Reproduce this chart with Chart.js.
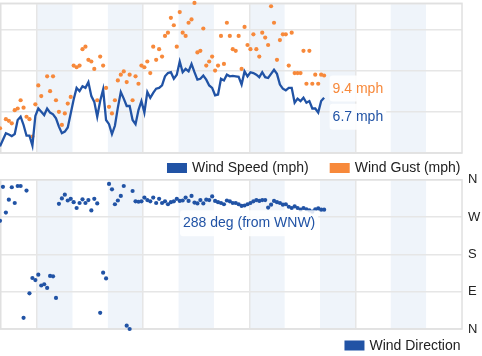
<!DOCTYPE html>
<html><head><meta charset="utf-8">
<script src="https://cdn.jsdelivr.net/npm/chart.js@4.4.0/dist/chart.umd.min.js"></script>
<style>
html,body{margin:0;padding:0;background:#fff;}
#wrap{position:relative;width:482px;height:356px;overflow:hidden;background:#fff;}
canvas{position:absolute;left:0;display:block;}
#c1{top:0;}
#c2{top:166px;}
</style></head><body>
<div id="wrap">
<canvas id="c1" width="482" height="175"></canvas>
<canvas id="c2" width="482" height="190"></canvas>
</div>
<script>
// ---- data (5-minute samples) ----
const speedMph = [0.8,1.6,2.4,2.25,2.05,2.3,4.0,4.4,3.4,2.1,
  2.1,0.9,4.5,5.4,5.0,4.6,5.4,4.9,4.7,4.2,
  3.2,2.4,2.6,3.1,4.8,6.5,7.9,7.5,8.1,7.9,
  8.6,6.9,6.2,4.4,6.3,7.7,4.0,3.5,2.3,3.3,
  5.5,7.4,6.6,5.7,5.7,4.0,3.5,5.2,6.3,4.9,
  7.4,6.7,7.3,7.8,7.9,8.2,9.3,9.7,9.8,9.0,
  9.5,11.1,9.8,10.2,9.9,10.8,9.8,8.9,9.0,9.4,
  8.9,8.2,7.9,7.0,7.1,9.0,8.8,9.5,9.3,9.35,
  9.3,9.25,8.3,9.9,9.3,9.8,9.7,9.5,9.2,9.8,
  9.2,9.1,9.6,10.1,9.6,8.3,7.8,7.6,7.9,7.9,
  6.1,6.6,6.3,6.7,6.1,6.3,5.4,5.4,4.9,6.3,6.7];
const gustMph = [3.0,null,4.1,3.9,3.6,5.2,5.4,6.4,5.5,4.4,
  4.1,2.0,5.9,8.2,6.9,null,9.3,7.5,9.3,6.4,
  5.0,3.4,4.8,6.0,6.8,10.6,10.4,10.6,12.6,12.9,
  11.3,11.1,10.2,6.4,11.7,10.6,7.9,5.6,4.8,6.4,
  8.8,9.5,9.9,8.6,9.5,6.4,9.3,8.4,10.6,10.4,
  11.1,9.7,12.9,11.3,12.6,11.7,14.2,14.6,16.4,15.5,
  12.9,17.1,14.6,14.2,15.8,16.2,18.2,12.2,12.4,15.1,
  10.6,11.1,11.7,10.0,10.6,14.2,10.8,15.8,14.2,12.6,
  12.4,14.2,10.2,15.3,13.1,12.6,14.4,12.6,11.7,14.6,
  14.0,13.1,17.8,15.8,11.3,13.7,14.4,14.4,10.6,14.6,
  9.7,9.7,9.7,12.4,8.4,12.4,8.4,9.5,8.4,9.5,9.4];
const directionDeg = [261,343,281,312,342,304,345,345,27,334,
  86,123,118,131,105,108,99,128,127,75,
  302,315,324,310,314,306,292,304,313,304,
  311,286,314,303,39,136,122,350,337,301,
  310,321,345,8,0,333,308,307,308,317,
  311,308,317,304,314,304,308,301,306,308,
  314,309,310,317,309,321,305,303,311,303,
  312,311,320,309,306,304,301,310,308,304,
  304,301,297,298,301,304,308,311,309,311,
  311,293,300,309,306,304,300,301,295,292,
  296,292,288,292,289,286,283,289,291,288,288];
const compassTicks = ['N','E','S','W','N'];
const compass16 = ['N','NNE','NE','ENE','E','ESE','SE','SSE','S','SSW','SW','WSW','W','WNW','NW','NNW'];
const gridMinutes = [0,180,360,540];
const shadedHours = [[0,60],[120,180],[240,300],[360,420],[480,540],[600,660]];
const FIRST_MIN = -63, STEP_MIN = 5;   // first sample time, sample interval (minutes)
const X_MIN = -63, X_MAX = 721;

const toXY = arr => arr.map((v,i)=>({x: FIRST_MIN + STEP_MIN*i, y: v}));

// ---- styles ----
const FONT = '"Liberation Sans", Arial, Helvetica, sans-serif';
const BLUE = '#2153a5', ORANGE = '#f7893b', GRID = '#e6e6e6', BAND = '#eff4fa', TEXT = '#222';

const bandsPlugin = {
  id: 'bands',
  beforeDraw(chart) {
    const {ctx, chartArea: a, scales: {x}} = chart;
    ctx.save();
    ctx.beginPath(); ctx.rect(a.left,a.top,a.right-a.left,a.bottom-a.top); ctx.clip();
    ctx.fillStyle = '#fff';
    ctx.fillRect(a.left,a.top,a.right-a.left,a.bottom-a.top);
    ctx.fillStyle = BAND;
    shadedHours.forEach(([s,e]) => {
      const x0 = x.getPixelForValue(s), x1 = x.getPixelForValue(e);
      ctx.fillRect(x0, a.top, x1-x0, a.bottom-a.top);
    });
    ctx.restore();
  },
  beforeDatasetsDraw(chart) {
    const {ctx, chartArea: a} = chart;
    ctx.save();
    ctx.strokeStyle = '#e0e0e0'; ctx.lineWidth = 1.5;
    ctx.strokeRect(a.left+0.75, a.top, a.right-a.left-0.75, a.bottom-a.top);
    ctx.restore();
  }
};

function legendPlugin(offsetY, rightX) {
  return { id: 'rightLegend', afterDraw(chart) {
    const ctx = chart.ctx, y = chart.chartArea.bottom + offsetY;
    ctx.save();
    ctx.font = '14px ' + FONT; ctx.textBaseline = 'middle'; ctx.textAlign = 'left';
    let x = rightX;
    const ds = chart.data.datasets;
    for (let k = ds.length-1; k >= 0; k--) {
      const text = ds[k].label, w = ctx.measureText(text).width;
      const tx = x - w, bx = tx - 25;
      ctx.fillStyle = ds[k].legendColor;
      ctx.fillRect(bx, y-5, 20, 10);
      ctx.fillStyle = TEXT;
      ctx.fillText(text, tx, y+0.5);
      x = bx - 21;
    }
    ctx.restore();
  }};
}

function drawTag(ctx, text, color, left, cy) {
  ctx.font = '14px ' + FONT;
  const w = ctx.measureText(text).width;
  ctx.fillStyle = 'rgba(255,255,255,0.85)';
  ctx.beginPath();
  if (ctx.roundRect) ctx.roundRect(left-3, cy-13, w+6, 26, 3); else ctx.rect(left-3, cy-13, w+6, 26);
  ctx.fill();
  ctx.fillStyle = color; ctx.textBaseline = 'middle'; ctx.textAlign = 'left';
  ctx.fillText(text, left, cy+0.5);
}

const speedTags = {
  id: 'speedTags',
  afterDatasetsDraw(chart) {
    const ctx = chart.ctx, {x, y} = chart.scales;
    const n = speedMph.length - 1;
    const px = x.getPixelForValue(FIRST_MIN + STEP_MIN*n);
    const gy = y.getPixelForValue(gustMph[n]), sy = y.getPixelForValue(speedMph[n]);
    const gc = gy + 13;
    const sc = Math.max(sy + 19, gc + 28);
    ctx.save();
    drawTag(ctx, gustMph[n].toFixed(1) + ' mph', ORANGE, px + 8.5, gc);
    drawTag(ctx, speedMph[n].toFixed(1) + ' mph', BLUE, px + 8.5, sc);
    ctx.restore();
  }
};

const dirTag = {
  id: 'dirTag',
  afterDatasetsDraw(chart) {
    const ctx = chart.ctx, {x, y} = chart.scales;
    const n = directionDeg.length - 1, d = directionDeg[n];
    const px = x.getPixelForValue(FIRST_MIN + STEP_MIN*n), py = y.getPixelForValue(d);
    const text = d + ' deg (from ' + compass16[Math.round(d/22.5) % 16] + ')';
    ctx.save();
    ctx.font = '14px ' + FONT;
    const w = ctx.measureText(text).width;
    drawTag(ctx, text, BLUE, px - 75 - w/2, py + 13.5);
    ctx.restore();
  }
};

const xScale = () => ({
  type: 'linear', min: X_MIN, max: X_MAX,
  afterBuildTicks: s => { s.ticks = gridMinutes.map(v => ({value: v})); },
  ticks: {display: false},
  grid: {color: GRID, lineWidth: 1.5, drawTicks: false},
  border: {display: false}
});

new Chart(document.getElementById('c1'), {
  type: 'line',
  data: { datasets: [
    { label: 'Wind Speed (mph)', data: toXY(speedMph), borderColor: BLUE, backgroundColor: BLUE, legendColor: BLUE,
      borderWidth: 2.3, pointRadius: 0, tension: 0, order: 0, clip: false },
    { label: 'Wind Gust (mph)', data: toXY(gustMph), showLine: false, pointRadius: 2.1, pointBorderWidth: 0,
      pointBackgroundColor: ORANGE, backgroundColor: ORANGE, borderColor: ORANGE, legendColor: ORANGE, order: 1, clip: false }
  ]},
  options: {
    responsive: false, animation: false, devicePixelRatio: 1,
    layout: { autoPadding: false, padding: {top: 3.3, right: 20, bottom: 22, left: 0} },
    plugins: { legend: {display: false}, tooltip: {enabled: false} },
    scales: {
      x: xScale(),
      y: { min: 0, max: 18.16, ticks: {display: false, stepSize: 5},
           grid: {color: GRID, lineWidth: 1.5, drawTicks: false}, border: {display: false} }
    }
  },
  plugins: [bandsPlugin, legendPlugin(15, 460.5), speedTags]
});

new Chart(document.getElementById('c2'), {
  type: 'line',
  data: { datasets: [
    { label: 'Wind Direction', data: toXY(directionDeg), showLine: false, pointRadius: 2.1, pointBorderWidth: 0,
      pointBackgroundColor: BLUE, backgroundColor: BLUE, borderColor: BLUE, legendColor: BLUE, clip: false }
  ]},
  options: {
    responsive: false, animation: false, devicePixelRatio: 1,
    layout: { autoPadding: false, padding: {top: 8, right: -4.3, bottom: 27, left: 0} },
    plugins: { legend: {display: false}, tooltip: {enabled: false} },
    scales: {
      x: xScale(),
      y: { position: 'right', min: 0, max: 360,
           afterBuildTicks: s => { s.ticks = compassTicks.map((t,i) => ({value: i*90})); },
           ticks: {display: true, padding: 6, color: TEXT, font: {family: FONT, size: 13},
                   callback: v => compassTicks[Math.round(v/90)]},
           grid: {color: GRID, lineWidth: 1.5, drawTicks: false}, border: {display: false} }
    }
  },
  plugins: [bandsPlugin, legendPlugin(16.5, 460.5), dirTag]
});
</script>
</body></html>
